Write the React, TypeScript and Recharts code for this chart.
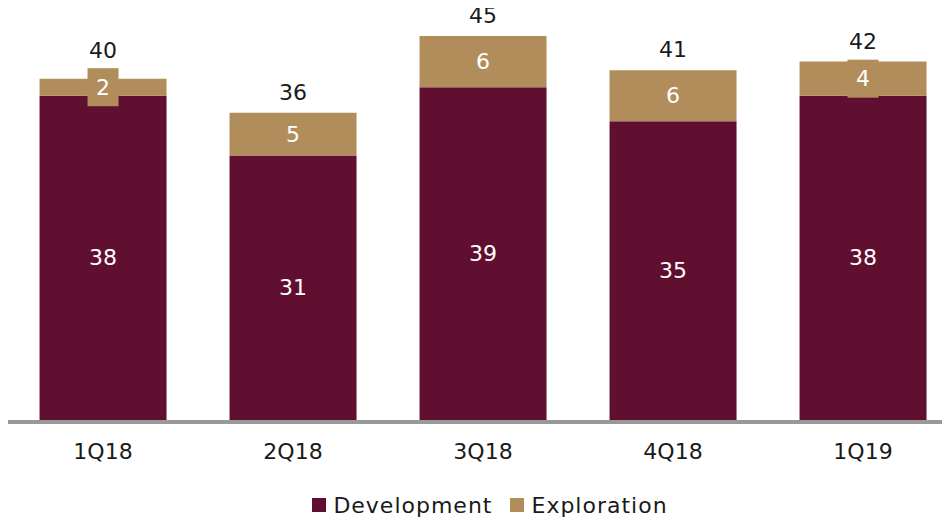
import { BarChart, Bar, XAxis, YAxis, LabelList, Legend } from 'recharts'

const categories = ['1Q18', '2Q18', '3Q18', '4Q18', '1Q19']
const development = [38, 31, 39, 35, 38]
const exploration = [2, 5, 6, 6, 4]

const COLORS = {
  development: '#610F31',
  exploration: '#B28D5C',
  axis: '#999999',
  text: '#1a1a1a',
}

const FONT = '"DejaVu Sans", sans-serif'

const data = categories.map((quarter, i) => ({
  quarter,
  development: development[i],
  exploration: exploration[i],
  total: development[i] + exploration[i],
}))

const BOX_W = 31
const BOX_H = 38

function InsideLabel(props: any) {
  const { x, y, width, height, value } = props
  return (
    <text x={x + width / 2} y={y + height / 2} textAnchor="middle" dominantBaseline="central" fill="#fff" fontSize={22} fontFamily={FONT}>
      {value}
    </text>
  )
}

function BoxedLabel(props: any) {
  const { x, y, width, height, value } = props
  const cx = x + width / 2
  const cy = y + height / 2
  return (
    <g>
      <rect x={cx - BOX_W / 2} y={cy - BOX_H / 2} width={BOX_W} height={BOX_H} fill={COLORS.exploration} />
      <text x={cx} y={cy} textAnchor="middle" dominantBaseline="central" fill="#fff" fontSize={22} fontFamily={FONT}>
        {value}
      </text>
    </g>
  )
}

function TotalLabel(props: any) {
  const { x, y, width, height, value } = props
  // keep the total clear of the label box on thin segments
  const boxTop = y + height / 2 - BOX_H / 2
  const baseline = Math.min(y - 13, boxTop - 10)
  return (
    <text x={x + width / 2} y={baseline} textAnchor="middle" fill={COLORS.text} fontSize={22} fontFamily={FONT}>
      {value}
    </text>
  )
}

function LegendContent() {
  const items = [
    { name: 'Development', color: COLORS.development },
    { name: 'Exploration', color: COLORS.exploration },
  ]
  return (
    <div style={{ display: 'flex', justifyContent: 'center', alignItems: 'center', height: 30, paddingLeft: 14, fontFamily: FONT, fontSize: 22, color: COLORS.text, letterSpacing: 1 }}>
      {items.map((it) => (
        <div key={it.name} style={{ display: 'flex', alignItems: 'center', margin: '0 9px' }}>
          <span style={{ display: 'inline-block', width: 14, height: 14, background: it.color, marginRight: 7 }} />
          <span>{it.name}</span>
        </div>
      ))}
    </div>
  )
}

export default function App() {
  return (
    <div style={{ marginTop: -8 }}>
      <BarChart
        width={950}
        height={524}
        data={data}
        margin={{ top: 36, right: 0, left: 0, bottom: 4 }}
        barCategoryGap="16.6%"
      >
        <XAxis
          dataKey="quarter"
          height={70}
          tickLine={false}
          tickMargin={17}
          axisLine={{ stroke: COLORS.axis, strokeWidth: 4, transform: 'translate(0,2)' }}
          tick={{ fill: COLORS.text, fontSize: 22, fontFamily: FONT }}
        />
        <YAxis hide domain={[0, 45]} />
        <Legend verticalAlign="bottom" height={30} content={<LegendContent />} />
        <Bar dataKey="development" stackId="a" fill={COLORS.development} isAnimationActive={false}>
          <LabelList dataKey="development" content={<InsideLabel />} />
        </Bar>
        <Bar dataKey="exploration" stackId="a" fill={COLORS.exploration} isAnimationActive={false}>
          <LabelList dataKey="exploration" content={<BoxedLabel />} />
          <LabelList dataKey="total" content={<TotalLabel />} />
        </Bar>
      </BarChart>
    </div>
  )
}
